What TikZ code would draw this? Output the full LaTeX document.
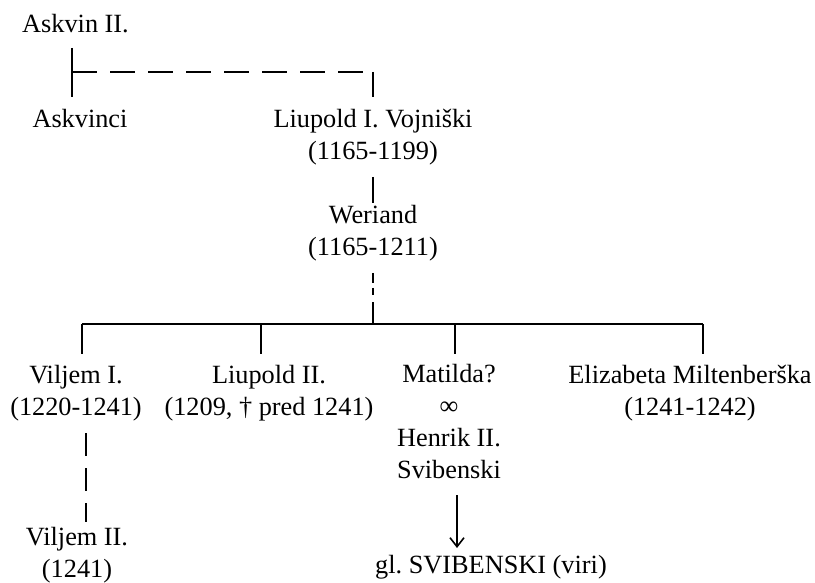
\documentclass[tikz,border=0pt]{standalone}
\usepackage{fontspec}
\setmainfont{Liberation Serif}
\usetikzlibrary{arrows.meta}
\frenchspacing
\begin{document}
\begin{tikzpicture}[x=1pt,y=-1pt,
  lbl/.style={anchor=base,inner sep=0pt,align=center,font=\fontsize{26.3}{32}\selectfont},
  ln/.style={line width=2pt},
  dsh/.style={line width=2pt,dash pattern=on 25pt off 13pt},
  dshs/.style={line width=2pt,dash pattern=on 10pt off 5pt on 7pt off 7pt on 22pt off 10pt},
  dshv/.style={line width=2pt,dash pattern=on 23pt off 12pt}]
\useasboundingbox (0,0) rectangle (815,583);
% nodes (anchored at the baseline of their last line)
\node[lbl] (askvin) at (75.5,33) {Askvin II.};
\node[lbl] (askvinci) at (80,128) {Askvinci};
\node[lbl] (liupold1) at (373,160) {Liupold I. Vojniški\\(1165-1199)};
\node[lbl] (weriand) at (373,255) {Weriand\\(1165-1211)};
\node[lbl] (viljem1) at (76,415) {Viljem I.\\(1220-1241)};
\node[lbl] (liupold2) at (269,415) {Liupold II.\\(1209, † pred 1241)};
\node[lbl] (matilda) at (449,478) {Matilda?\\∞\\Henrik II.\\Svibenski};
\node[lbl] (elizabeta) at (690,415) {Elizabeta Miltenberška\\(1241-1242)};
\node[lbl] (viljem2) at (77,577) {Viljem II.\\(1241)};
\node[lbl] (svib) at (491,573) {gl. SVIBENSKI (viri)};
% coordinates
\coordinate (a0) at (72,48);
\coordinate (a1) at (72,72);
\coordinate (a2) at (72,97);
\coordinate (b1) at (373,72);
\coordinate (b2) at (373,97);
\coordinate (c1) at (373,177);
\coordinate (c2) at (373,203);
\coordinate (d1) at (373,273);
\coordinate (d2) at (373,324);
\coordinate (h1) at (82,324);
\coordinate (h2) at (261,324);
\coordinate (h3) at (455,324);
\coordinate (h4) at (703,324);
\coordinate (e1) at (82,354);
\coordinate (e2) at (261,354);
\coordinate (e3) at (455,354);
\coordinate (e4) at (703,354);
\coordinate (v1) at (86,433);
\coordinate (v2) at (86,522);
\coordinate (m1) at (457,495);
\coordinate (m2) at (457,548);
% connectors
\draw[ln] (a0) -- (a2);
\draw[dsh] (a1) -- (b1);
\draw[ln] (b1) -- (b2);
\draw[ln] (c1) -- (c2);
\draw[dshs] (d1) -- (d2);
\draw[ln] (h1) -- (h4);
\draw[ln] (h1) -- (e1);
\draw[ln] (h2) -- (e2);
\draw[ln] (h3) -- (e3);
\draw[ln] (h4) -- (e4);
\draw[dshv] (v1) -- (v2);
\draw[ln,-{Straight Barb[length=9pt,width=14pt,line width=1.6pt]}] (m1) -- (m2);
\end{tikzpicture}
\end{document}
